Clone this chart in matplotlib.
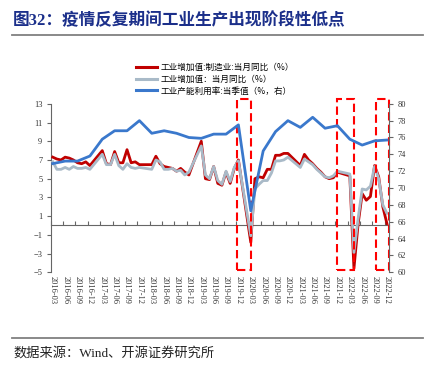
import matplotlib
matplotlib.use('Agg')
import matplotlib.pyplot as plt
import pandas as pd
from matplotlib.patches import Rectangle
from matplotlib.lines import Line2D

CJK = 'Noto Sans CJK SC'
SERIF = 'Liberation Serif'

# ── Data ─────────────────────────────────────────────────────────────────────
# monthly axis 2016-03 .. 2022-12; Jan/Feb have no single-month value
months = pd.period_range('2016-03', '2022-12', freq='M')
tick_months = months[::3]
tick_labels = [p.strftime('%Y-%m') for p in tick_months]
obs_months = [p for p in months if p.month > 2]

# 工业增加值:制造业:当月同比 (%)
mfg_yoy = [
    7.3, 7.1, 7.0, 7.3, 7.2, 7.0, 6.7, 6.6, 6.8, 6.4,     # 2016
    8.0, 6.6, 6.5, 7.9, 6.7, 6.7, 8.1, 6.7, 6.8, 6.5,     # 2017
    6.5, 7.4, 6.6, 6.3, 6.2, 6.1, 5.8, 6.1, 5.7, 5.4,     # 2018
    9.0, 5.0, 4.9, 6.3, 4.5, 4.3, 5.7, 4.5, 6.1, 7.0,     # 2019
    -1.8, 5.0, 5.2, 5.1, 6.0, 6.0, 7.5, 7.5, 7.7, 7.7,    # 2020
    6.4, 7.6, 7.0, 6.6, 6.1, 5.7, 5.2, 5.0, 5.1, 5.7,     # 2021
    5.3, -4.6, 0.1, 3.4, 2.7, 3.1, 6.4, 5.2, 2.0, 0.2,    # 2022
]
# 工业增加值:当月同比 (%)
ind_yoy = [
    6.8, 6.0, 6.0, 6.2, 6.0, 6.3, 6.1, 6.1, 6.2, 6.0,
    7.6, 6.5, 6.5, 7.6, 6.4, 6.0, 6.6, 6.2, 6.1, 6.2,
    6.0, 7.0, 6.8, 6.0, 6.0, 6.1, 5.8, 5.9, 5.4, 5.7,
    8.5, 5.4, 5.0, 6.3, 4.8, 4.4, 5.8, 4.7, 6.2, 6.9,
    -1.1, 3.9, 4.4, 4.8, 4.8, 5.6, 6.9, 6.9, 7.0, 7.3,
    6.2, 7.1, 6.8, 6.5, 6.0, 5.6, 5.2, 5.1, 5.3, 5.8,
    5.5, -2.9, 0.7, 3.9, 3.8, 4.2, 6.3, 5.0, 2.2, 1.3,
]
# 工业产能利用率:当季值 (%, right axis), quarter-end months
cap_util = [
    72.9, 73.2, 73.2, 73.8, 75.8, 76.8, 76.8, 78.0,
    76.5, 76.8, 76.5, 76.0, 75.9, 76.4, 76.4, 77.5,
    67.3, 74.4, 76.7, 78.0, 77.2, 78.4, 77.1, 77.4,
    75.8, 75.1, 75.6, 75.7,
]

labels = ['工业增加值:制造业:当月同比（%）',
          '工业增加值：当月同比（%）',
          '工业产能利用率:当季值（%，右）']

# highlighted periods (month-index spans) drawn as dashed red boxes
highlights = [(44.7, 48.0), (68.8, 73.0), (78.3, 81.5)]

x_obs = [(p - months[0]).n for p in obs_months]
x_q = [(p - months[0]).n for p in tick_months]

RED = '#C00000'
GREY = '#A9BAC8'
BLUE = '#3A78CC'
AXC = '#666666'

# ── Figure ───────────────────────────────────────────────────────────────────
W, H = 436, 374
fig = plt.figure(figsize=(W / 100, H / 100), dpi=100)
ax = fig.add_axes([50.7 / W, 1 - 272.3 / H, (389 - 50.7) / W, (272.3 - 103.8) / H])
ax2 = ax.twinx()

ax.plot(x_obs, mfg_yoy, color=RED, lw=2.0, zorder=3, solid_joinstyle='round')
ax.plot(x_obs, ind_yoy, color=GREY, lw=2.0, zorder=4, solid_joinstyle='round')
ax2.plot(x_q, cap_util, color=BLUE, lw=2.0, zorder=5, solid_joinstyle='round')

ax.set_xlim(-0.5, len(months) - 0.5)
ax.set_ylim(-5, 13)
ax2.set_ylim(60, 80)
ax.set_yticks(range(-5, 14, 2))
ax2.set_yticks(range(60, 81, 2))

for s in ['top', 'right']:
    ax.spines[s].set_visible(False)
for s in ['top', 'left', 'bottom']:
    ax2.spines[s].set_visible(False)
ax.spines['bottom'].set_position(('data', 0))
for a, s in [(ax, 'left'), (ax, 'bottom'), (ax2, 'right')]:
    a.spines[s].set_color(AXC)
    a.spines[s].set_linewidth(0.8)

ax.set_xticks([v - 0.5 for v in x_q])
ax.tick_params(axis='x', direction='in', length=3, width=0.8, color=AXC,
               labelbottom=False)
ax.tick_params(axis='y', direction='out', length=3, width=0.8, color=AXC,
               labelsize=6, labelcolor='#333333', pad=3)
ax2.tick_params(axis='y', direction='out', length=3, width=0.8, color=AXC,
                labelsize=6, labelcolor='#333333', pad=3)

sec = ax.secondary_xaxis('bottom')
sec.set_xticks(x_q, tick_labels)
sec.tick_params(length=0, pad=3, labelsize=6, labelrotation=-90,
                labelcolor='#333333')
sec.spines['bottom'].set_visible(False)

for lab in ax.get_yticklabels() + ax2.get_yticklabels() + sec.get_xticklabels():
    lab.set_family(SERIF)

# dashed highlight boxes
for x0, x1 in highlights:
    ax.add_patch(Rectangle((x0, -4.8), x1 - x0, 18.3, fill=False,
                           edgecolor='#FF0000', lw=1.5, ls=(0, (4, 2)),
                           clip_on=False, zorder=6))

handles = [Line2D([], [], color=c, lw=2.2) for c in (RED, GREY, BLUE)]
fig.legend(handles, labels, loc='upper left', bbox_to_anchor=(136 / W, 1 - 63 / H),
           frameon=False, prop={'family': CJK, 'size': 6.2}, handlelength=2.4,
           handletextpad=0.5, labelspacing=0.32, borderpad=0, borderaxespad=0)

# title, rules and source
fig.text(13 / W, 1 - 21 / H, '图32：疫情反复期间工业生产出现阶段性低点',
         fontsize=12, fontweight='bold', color='#1B2F8A', family=[SERIF, CJK],
         va='center')
fig.add_artist(Line2D([11.7 / W, 422.7 / W], [1 - 35 / H] * 2, color='#808080', lw=1.3))
fig.add_artist(Line2D([11.7 / W, 422.7 / W], [1 - 338.3 / H] * 2, color='#808080', lw=1.3))
fig.text(13 / W, 1 - 353.5 / H, '数据来源：Wind、开源证券研究所', fontsize=9.5,
         color='#222222', family=[SERIF, CJK], va='center')

fig.savefig('out.png', dpi=100)
